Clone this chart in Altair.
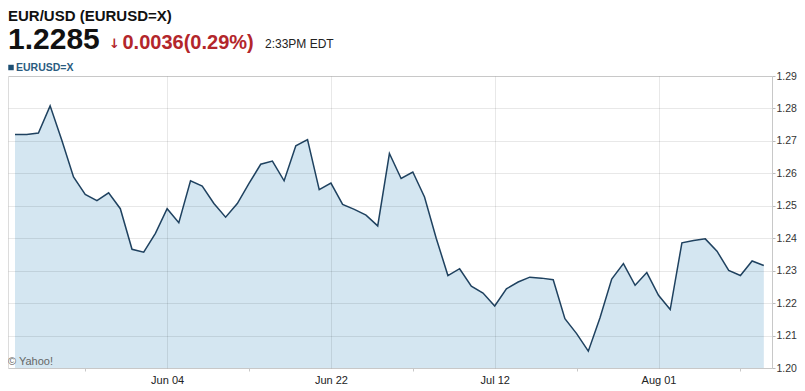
import altair as alt
import pandas as pd

# ---- data ----
VALUES = [
    1.2720, 1.2720, 1.2724, 1.2808, 1.2702, 1.2589, 1.2535, 1.2516, 1.2540, 1.2491,
    1.2366, 1.2357, 1.2415, 1.2491, 1.2448, 1.2577, 1.2561, 1.2507, 1.2465, 1.2507,
    1.2569, 1.2628, 1.2638, 1.2577, 1.2685, 1.2704, 1.2550, 1.2570, 1.2504, 1.2489,
    1.2471, 1.2438, 1.2661, 1.2584, 1.2604, 1.2527, 1.2400, 1.2285, 1.2306, 1.2252,
    1.2231, 1.2191, 1.2244, 1.2265, 1.2280, 1.2277, 1.2272, 1.2152, 1.2106, 1.2052,
    1.2155, 1.2274, 1.2322, 1.2255, 1.2294, 1.2224, 1.2180, 1.2386, 1.2393, 1.2398,
    1.2360, 1.2301, 1.2285, 1.2330, 1.2316,
]
IDX = list(range(len(VALUES)))
TICK_IDX = [13, 27, 41, 55]
TICK_LABELS = ["Jun 04", "Jun 22", "Jul 12", "Aug 01"]
MINOR_IDX = [6, 20, 34, 48, 62]
Y_TICKS = [1.20, 1.21, 1.22, 1.23, 1.24, 1.25, 1.26, 1.27, 1.28, 1.29]
X_DOMAIN = [-0.6, 64.7]

TITLE = "EUR/USD (EURUSD=X)"
PRICE = "1.2285"
ARROW = "\u2193"
CHANGE = "0.0036(0.29%)"
TIME = "2:33PM EDT"
LEGEND = "EURUSD=X"
CREDIT = "\u00a9 Yahoo!"

FONT = "Liberation Sans, Arial, sans-serif"
LINE_COLOR = "#1f4260"
FILL_COLOR = "#d4e6f1"

W, H = 764, 292

df = pd.DataFrame({"i": IDX, "v": VALUES})

label_expr = " : ".join(
    f"datum.value == {i} ? '{l}'" for i, l in zip(TICK_IDX, TICK_LABELS)
) + " : ''"
minor_test = "indexof([" + ",".join(str(m) for m in MINOR_IDX) + "], datum.value) >= 0"

x_enc = alt.X(
    "i:Q",
    scale=alt.Scale(domain=X_DOMAIN, nice=False, zero=False),
    axis=alt.Axis(
        values=sorted(TICK_IDX + MINOR_IDX),
        labelExpr=label_expr,
        title=None,
        grid=True,
        gridColor="#000000",
        gridOpacity={"condition": {"test": minor_test, "value": 0}, "value": 0.09},
        tickOpacity={"condition": {"test": minor_test, "value": 1}, "value": 0},
        tickSize=3,
        tickColor="#c8c8c8",
        domain=False,
        labelFont=FONT,
        labelFontSize=11,
        labelColor="#222222",
        labelPadding=3,
        labelOverlap=False,
        labelFlush=False,
        zindex=1,
    ),
)

y_enc = alt.Y(
    "v:Q",
    scale=alt.Scale(domain=[Y_TICKS[0], Y_TICKS[-1]], nice=False, zero=False),
    axis=alt.Axis(
        orient="right",
        values=Y_TICKS,
        format=".2f",
        title=None,
        grid=True,
        gridColor="#000000",
        gridOpacity=0.09,
        tickSize=3,
        tickColor="#bbbbbb",
        domain=True,
        domainColor="#c8c8c8",
        labelFont=FONT,
        labelFontSize=10.5,
        labelColor="#333333",
        labelPadding=1,
        zindex=1,
    ),
)

base = alt.Chart(df)
area = base.mark_area(color=FILL_COLOR, opacity=1).encode(
    x=x_enc, y=y_enc, y2=alt.datum(Y_TICKS[0])
)
line = base.mark_line(color=LINE_COLOR, strokeWidth=1.5).encode(x=x_enc, y=y_enc)


def label(text, px, py, size, weight="normal", color="#111111", font=FONT):
    return alt.Chart(pd.DataFrame({"t": [text]})).mark_text(
        align="left", baseline="alphabetic", font=font, fontSize=size,
        fontWeight=weight, color=color,
    ).encode(x=alt.value(px), y=alt.value(py), text="t:N")


title_t = label(TITLE, 0, -55, 15, "bold", "#111111")
price_t = label(PRICE, 0, -27.5, 30, "bold", "#111111")
arrow_t = label(ARROW, 101, -28, 13, "bold", "#b3262b", "DejaVu Sans")
change_t = label(CHANGE, 114.5, -27.5, 20, "bold", "#b3262b")
time_t = label(TIME, 257, -28, 12, "normal", "#222222")
legend_t = label(LEGEND, 8, -5.3, 10.5, "bold", "#2b5c7f")
credit_t = label(CREDIT, 0, 289, 11, "normal", "#666666")

legend_sq = alt.Chart(pd.DataFrame({"t": [LEGEND]})).mark_square(
    size=30, color="#1d4f73", opacity=1
).encode(x=alt.value(3), y=alt.value(-8.5))

chart = alt.layer(
    area, line, title_t, price_t, arrow_t, change_t, time_t, legend_t, credit_t, legend_sq
).properties(
    width=W,
    height=H,
    autosize=alt.AutoSizeParams(type="none"),
    padding={"left": 0, "top": 68, "right": 25, "bottom": 19},
    background="white",
).configure_view(stroke="#dcdcdc", strokeWidth=1)

chart.save("out.html", embed_options={"renderer": "svg", "actions": False})
